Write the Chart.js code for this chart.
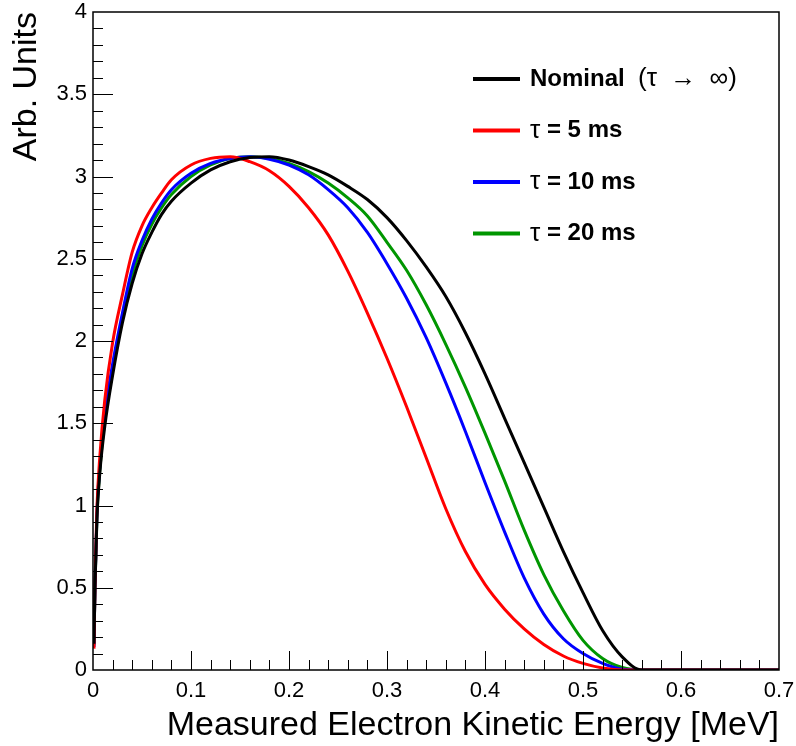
<!DOCTYPE html>
<html>
<head>
<meta charset="utf-8">
<title>Measured electron kinetic energy</title>
<script src="https://cdn.jsdelivr.net/npm/chart.js@4.4.1/dist/chart.umd.min.js"></script>
<style>
  html, body { margin: 0; padding: 0; background: #ffffff; }
  #wrap { width: 796px; height: 746px; }
</style>
</head>
<body>
<div id="wrap"><canvas id="spectrum" width="796" height="746"></canvas></div>
<script>
// energy grid [MeV]
const energy = [0.001, 0.002, 0.004, 0.007, 0.012, 0.02, 0.03, 0.04, 0.05, 0.06, 0.07, 0.08,
    0.10, 0.12, 0.14, 0.16, 0.18, 0.20, 0.22, 0.24, 0.26, 0.28, 0.30, 0.32, 0.34, 0.36,
    0.38, 0.40, 0.42, 0.44, 0.46, 0.48, 0.50, 0.52, 0.54, 0.56, 0.60, 0.65, 0.70];

const nominal = [0.16, 0.50, 0.92, 1.20, 1.48, 1.79, 2.11, 2.35, 2.53, 2.66, 2.77, 2.85,
    2.96, 3.04, 3.09, 3.115, 3.12, 3.10, 3.06, 3.01, 2.94, 2.86, 2.75, 2.61, 2.45, 2.27,
    2.05, 1.80, 1.53, 1.26, 0.99, 0.72, 0.47, 0.24, 0.08, 0, 0, 0, 0];

const tau5 = [0.13, 0.52, 0.98, 1.30, 1.64, 1.99, 2.28, 2.54, 2.70, 2.81, 2.90, 2.98,
    3.07, 3.11, 3.12, 3.09, 3.035, 2.94, 2.81, 2.645, 2.425, 2.17, 1.895, 1.60, 1.29, 0.98,
    0.72, 0.52, 0.37, 0.25, 0.155, 0.085, 0.04, 0.012, 0, 0, 0, 0, 0];

const tau10 = [0.14, 0.51, 0.95, 1.24, 1.55, 1.86, 2.17, 2.44, 2.61, 2.74, 2.84, 2.92,
    3.02, 3.08, 3.11, 3.12, 3.105, 3.07, 3.01, 2.92, 2.81, 2.66, 2.47, 2.26, 2.02, 1.745,
    1.45, 1.14, 0.84, 0.56, 0.34, 0.19, 0.10, 0.04, 0.005, 0, 0, 0, 0];

const tau20 = [0.15, 0.50, 0.93, 1.22, 1.52, 1.83, 2.14, 2.40, 2.58, 2.71, 2.81, 2.89,
    3.00, 3.07, 3.11, 3.12, 3.11, 3.08, 3.03, 2.96, 2.87, 2.76, 2.60, 2.43, 2.22, 1.98,
    1.72, 1.44, 1.15, 0.85, 0.58, 0.36, 0.18, 0.07, 0.015, 0, 0, 0, 0];

const seriesLabels = ["Nominal  (τ  →  ∞)", "τ = 5 ms", "τ = 10 ms", "τ = 20 ms"];
const seriesColors = ["#000000", "#ff0000", "#0000ff", "#009600"];

const xTickLabels = ["0", "0.1", "0.2", "0.3", "0.4", "0.5", "0.6", "0.7"];
const yTickLabels = ["0", "0.5", "1", "1.5", "2", "2.5", "3", "3.5", "4"];

const FONT = "'Liberation Sans', Arial, Helvetica, sans-serif";

Chart.defaults.font.family = FONT;
Chart.defaults.color = "#000000";

function toPoints(ys) {
    return energy.map((e, i) => ({ x: e, y: ys[i] }));
}

function noScalePadding(scale) {
    scale.paddingLeft = 0;
    scale.paddingRight = 0;
    scale.paddingTop = 0;
    scale.paddingBottom = 0;
}

// ROOT style frame with inward ticks
const rootFrame = {
    id: "rootFrame",
    afterDatasetsDraw(chart) {
        const { ctx, chartArea: a, scales: { x, y } } = chart;
        ctx.save();
        ctx.strokeStyle = "#000000";
        ctx.lineWidth = 1;
        ctx.beginPath();
        for (let j = 1; j < 35; j++) {
            const px = Math.round(x.getPixelForValue(j * 0.02)) + 0.5;
            const len = j % 5 === 0 ? 19 : 10;
            ctx.moveTo(px, a.bottom);
            ctx.lineTo(px, a.bottom - len);
        }
        for (let j = 1; j < 40; j++) {
            const py = Math.round(y.getPixelForValue(j * 0.1)) + 0.5;
            const len = j % 5 === 0 ? 20 : 10;
            ctx.moveTo(a.left, py);
            ctx.lineTo(a.left + len, py);
        }
        ctx.stroke();
        ctx.lineWidth = 1.5;
        ctx.strokeRect(a.left, a.top, a.right - a.left, a.bottom - a.top);
        ctx.restore();
    },
};

// legend drawn inside the frame, symbols in normal weight
const boxLegend = {
    id: "boxLegend",
    afterDraw(chart) {
        const { ctx, chartArea: a } = chart;
        const x0 = a.left + 380;
        const y0 = a.top + 67;
        const symbols = "τ→∞()";

        chart.data.datasets.forEach((ds, i) => {
            const yy = y0 + i * 51.5;

            ctx.save();
            ctx.strokeStyle = ds.borderColor;
            ctx.lineWidth = 4;
            ctx.beginPath();
            ctx.moveTo(x0, yy);
            ctx.lineTo(x0 + 47, yy);
            ctx.stroke();

            ctx.fillStyle = "#000000";
            ctx.textBaseline = "middle";
            let tx = x0 + 57;
            for (const ch of ds.label) {
                ctx.font = symbols.includes(ch)
                    ? "26px " + FONT
                    : "bold 24px " + FONT;
                ctx.fillText(ch, tx, yy);
                tx += ctx.measureText(ch).width;
            }
            ctx.restore();
        });
    },
};

new Chart(document.getElementById("spectrum"), {
    type: "line",

    data: {
        datasets: [nominal, tau5, tau10, tau20].map((ys, i) => ({
            label: seriesLabels[i],
            data: toPoints(ys),
            borderColor: seriesColors[i],
            borderWidth: 3,
            pointRadius: 0,
            fill: false,
            cubicInterpolationMode: "monotone",
        })),
    },

    options: {
        responsive: false,
        animation: false,
        devicePixelRatio: 1,

        layout: {
            padding: { left: 0, top: 12, right: 17, bottom: 0 },
        },

        plugins: {
            legend: { display: false },
            tooltip: { enabled: false },
        },

        scales: {
            x: {
                type: "linear",
                min: 0,
                max: 0.7,
                afterFit(scale) {
                    scale.height = 76;
                    noScalePadding(scale);
                },
                grid: { display: false, drawTicks: false },
                border: { display: false },
                ticks: {
                    stepSize: 0.1,
                    autoSkip: false,
                    maxRotation: 0,
                    padding: 8,
                    font: { size: 22 },
                    callback: (value, i) => xTickLabels[i],
                },
                title: {
                    display: true,
                    text: "Measured Electron Kinetic Energy [MeV]",
                    align: "end",
                    font: { size: 34, lineHeight: 1 },
                    padding: { top: 0, bottom: 3 },
                },
            },

            y: {
                min: 0,
                max: 4,
                afterFit(scale) {
                    scale.width = 93;
                    noScalePadding(scale);
                },
                grid: { display: false, drawTicks: false },
                border: { display: false },
                ticks: {
                    stepSize: 0.5,
                    padding: 6,
                    font: { size: 22 },
                    callback: (value, i) => yTickLabels[i],
                },
                title: {
                    display: true,
                    text: "Arb. Units",
                    align: "end",
                    font: { size: 34, lineHeight: 1 },
                    padding: { top: 10, bottom: 0 },
                },
            },
        },
    },

    plugins: [rootFrame, boxLegend],
});
</script>
</body>
</html>
